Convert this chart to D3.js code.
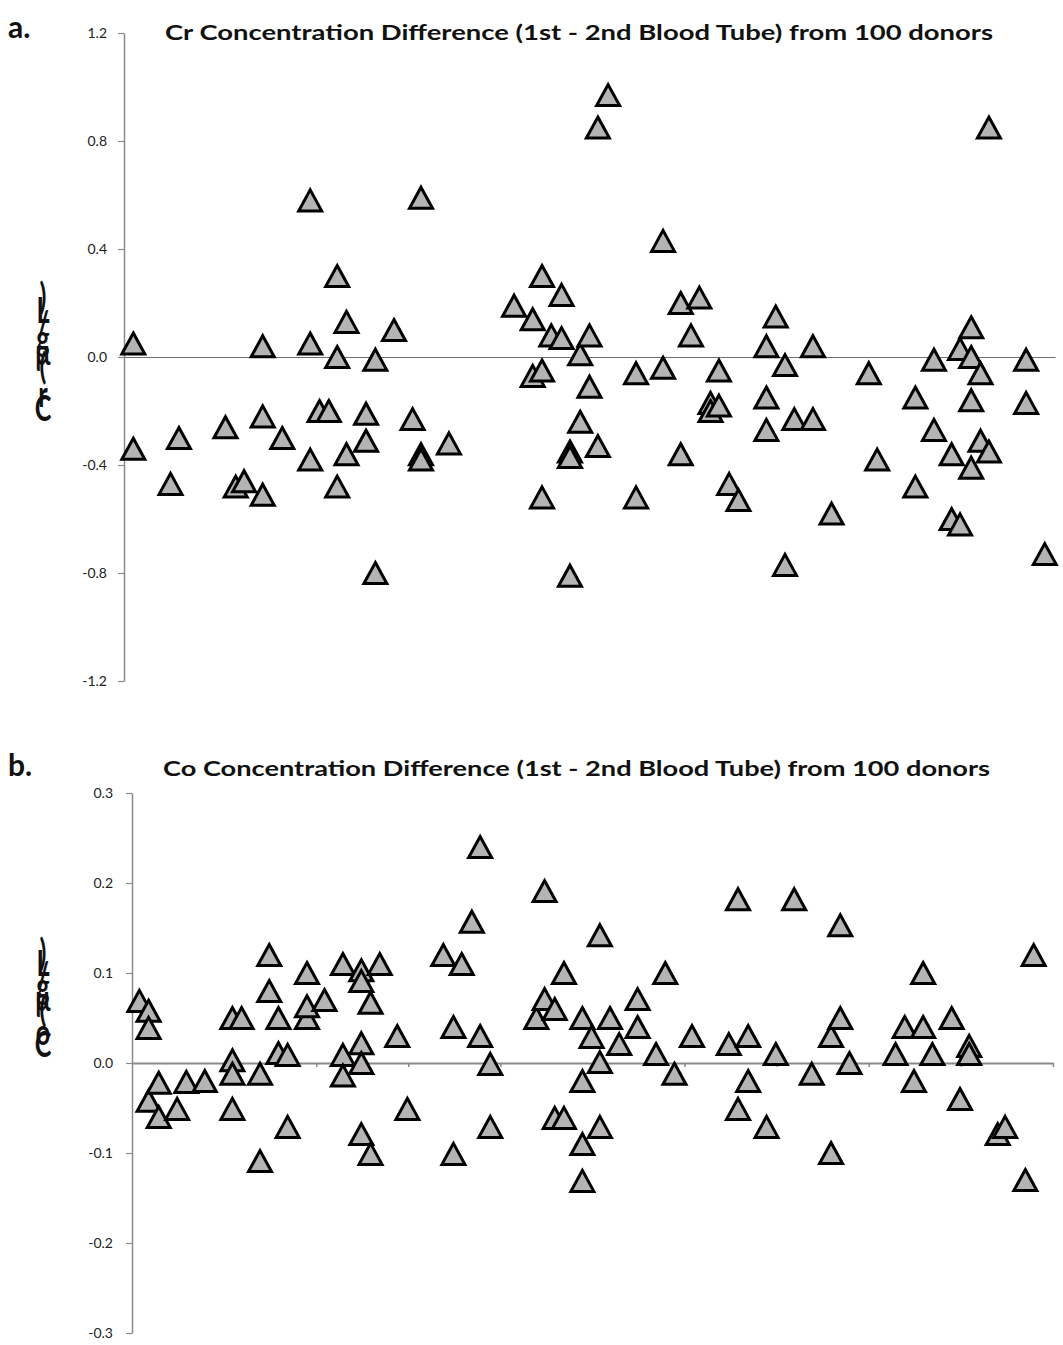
<!DOCTYPE html>
<html>
<head>
<meta charset="utf-8">
<script src="https://cdn.jsdelivr.net/npm/d3@7"></script>
<style>
  body { margin: 0; background: #fff; }
  svg text { font-family: "Lato", "Open Sans", sans-serif; }
</style>
</head>
<body>
<svg id="chart" width="1063" height="1345"></svg>
<script>
// panel a: Cr difference per donor
const crX = [1.0,1.0,5.9,5.0,10.9,14.9,14.9,17.0,12.0,12.9,14.9,20.0,20.0,20.0,21.0,22.0,22.9,22.9,23.9,23.9,22.9,26.0,26.0,27.0,27.0,29.0,31.0,31.9,31.9,31.9,34.9,
  41.9,43.9,44.9,45.9,47.0,47.0,43.9,44.9,44.9,47.9,47.9,47.9,49.0,49.0,50.0,50.0,50.9,50.9,52.0,55.0,55.0,57.9,57.9,59.8,61.8,60.9,59.8,63.0,63.0,63.9,63.9,65.0,66.0,
  69.0,69.0,69.0,70.0,71.0,71.0,72.0,74.0,74.0,76.0,80.0,80.9,85.0,85.0,87.0,87.0,88.9,88.9,89.8,89.8,91.0,91.0,91.0,91.0,92.0,92.0,92.9,92.9,96.9,96.9,98.9];
const crY = [0.05,-0.34,-0.30,-0.47,-0.26,-0.22,0.04,-0.30,-0.48,-0.46,-0.51,0.05,0.58,-0.38,-0.20,-0.20,0.30,0.00,0.13,-0.36,-0.48,-0.21,-0.31,-0.01,-0.80,0.10,-0.23,0.59,-0.36,-0.38,-0.32,
  0.19,0.14,0.30,0.08,0.07,0.23,-0.07,-0.05,-0.52,-0.35,-0.37,-0.81,-0.24,0.01,0.08,-0.11,-0.33,0.85,0.97,-0.06,-0.52,0.43,-0.04,0.20,0.22,0.08,-0.36,-0.17,-0.20,-0.18,-0.05,-0.47,-0.53,
  0.04,-0.15,-0.27,0.15,-0.03,-0.77,-0.23,-0.23,0.04,-0.58,-0.06,-0.38,-0.15,-0.48,-0.01,-0.27,-0.36,-0.60,-0.62,0.03,0.11,0.00,-0.16,-0.41,-0.06,-0.31,-0.35,0.85,-0.01,-0.17,-0.73];

// panel b: Co difference per donor
const coX = [0.8,1.8,1.8,1.8,2.9,2.9,4.9,5.9,7.9,10.9,11.9,10.9,10.9,10.9,13.9,13.9,14.9,14.9,15.9,15.9,
  16.9,16.9,19.0,19.0,19.0,20.9,22.9,22.9,22.9,24.9,24.9,24.9,24.9,24.9,25.9,25.9,26.9,28.8,29.9,33.8,
  35.8,36.9,37.8,34.9,37.8,38.9,38.9,34.9,43.9,44.8,44.8,45.9,46.9,45.9,46.9,48.9,49.9,48.9,48.9,48.9,
  50.8,50.8,50.8,51.9,52.9,54.9,54.9,56.9,57.9,58.9,60.8,64.8,65.8,65.8,66.9,66.9,68.9,69.9,71.9,73.8,
  75.9,76.9,76.9,75.9,77.9,82.9,83.9,84.9,85.9,85.9,86.9,89.0,89.9,90.9,90.9,94.0,94.8,97.0,97.9];
const coY = [0.069,0.058,0.039,-0.042,-0.022,-0.06,-0.051,-0.021,-0.02,0.05,0.05,0.003,-0.012,-0.051,-0.012,-0.109,0.12,0.08,0.05,0.011,
  0.009,-0.071,0.1,0.05,0.063,0.07,0.11,0.009,-0.014,0.103,0.091,0.022,0.0,-0.079,0.067,-0.101,0.11,0.03,-0.051,0.12,
  0.11,0.157,0.24,0.04,0.03,-0.001,-0.071,-0.101,0.05,0.071,0.191,0.06,0.1,-0.061,-0.061,0.05,0.029,-0.02,-0.09,-0.131,
  0.142,0.001,-0.071,0.05,0.021,0.071,0.04,0.01,0.1,-0.012,0.03,0.021,0.182,-0.051,0.03,-0.02,-0.071,0.01,0.182,-0.012,
  0.03,0.153,0.05,-0.1,0.0,0.01,0.04,-0.02,0.1,0.04,0.01,0.05,-0.04,0.019,0.01,-0.079,-0.071,-0.13,0.12];

const crTicks = [-1.2, -0.8, -0.4, 0, 0.4, 0.8, 1.2];
const coTicks = [-0.3, -0.2, -0.1, 0, 0.1, 0.2, 0.3];
const xTicks = [10, 20, 30, 40, 50, 60, 70, 80, 90, 100];

const svg = d3.select("#chart");

// triangle centred on its bounding box, like the Excel marker
const tri = "M0,-10.5L11.5,10.5L-11.5,10.5Z";

function drawPanel(p) {
  const x = d3.scaleLinear().domain([0, 100]).range(p.xRange);
  const y = d3.scaleLinear().domain(p.yDomain).range(p.yRange);
  const g = svg.append("g");

  // panel letter
  g.append("text")
    .attr("x", 8).attr("y", p.letterY)
    .attr("font-family", "Liberation Sans, Arial, sans-serif")
    .attr("font-weight", "bold").attr("font-size", 30)
    .attr("fill", "#111")
    .text(p.letter);

  // title
  g.append("text")
    .attr("x", p.titleX).attr("y", p.titleY)
    .attr("font-weight", "bold").attr("font-size", 21)
    .attr("textLength", p.titleW).attr("lengthAdjust", "spacingAndGlyphs")
    .attr("fill", "#111")
    .text(p.title);

  // y axis
  const yAxis = g.append("g")
    .attr("transform", `translate(${p.xRange[0]},0)`)
    .call(d3.axisLeft(y).tickValues(p.ticks).tickSize(6).tickSizeOuter(0)
      .tickFormat(d => d.toFixed(1)));
  yAxis.select(".domain").attr("stroke", "#8a8a8a").attr("stroke-width", 1.5);
  yAxis.selectAll(".tick line").attr("stroke", "#8a8a8a").attr("stroke-width", 1.2);
  yAxis.selectAll(".tick text")
    .attr("font-family", "Open Sans, sans-serif")
    .attr("font-size", 14).attr("fill", "#222").attr("x", -p.labelGap);

  // zero line with optional ticks
  const xAxis = g.append("g")
    .attr("transform", `translate(0,${y(0)})`)
    .call(d3.axisBottom(x).tickValues(p.xTicks).tickSize(p.xTickSize).tickSizeOuter(0).tickFormat(""));
  xAxis.select(".domain").attr("stroke", p.zeroColor).attr("stroke-width", p.zeroWidth);
  xAxis.selectAll(".tick line").attr("stroke", p.zeroColor).attr("stroke-width", 1.5);

  // y label: upright characters stacked bottom to top, as in the source figure
  const chars = Array.from(p.yLabel);
  g.append("text")
    .attr("transform", "translate(43,0) scale(0.7,1)")
    .attr("text-anchor", "middle")
    .attr("font-family", "Liberation Serif, serif")
    .attr("font-weight", "bold")
    .attr("font-size", 36)
    .attr("fill", "#111")
    .selectAll("tspan")
    .data(chars)
    .enter()
    .append("tspan")
    .attr("x", 0)
    .attr("y", (d, i) => p.labelBase - i * p.labelStep)
    .text(d => d);

  // markers
  g.append("g")
    .selectAll("path")
    .data(p.xs.map((v, i) => [v, p.ys[i]]))
    .enter()
    .append("path")
    .attr("d", tri)
    .attr("transform", d => `translate(${x(d[0])},${y(d[1])})`)
    .attr("fill", "#b5b3b3")
    .attr("stroke", "#000")
    .attr("stroke-width", 3)
    .attr("stroke-linejoin", "miter");
}

drawPanel({
  letter: "a.", letterY: 38,
  title: "Cr Concentration Difference (1st - 2nd Blood Tube) from 100 donors",
  titleX: 165, titleY: 40, titleW: 828,
  xRange: [124, 1055], yRange: [681, 33], yDomain: [-1.2, 1.2],
  ticks: crTicks, labelGap: 17, xTicks: [], xTickSize: 0, zeroColor: "#6e6e6e", zeroWidth: 1.2,
  yLabel: "Cr (µg/L)", labelBase: 421, labelStep: 14,
  xs: crX, ys: crY
});

drawPanel({
  letter: "b.", letterY: 776,
  title: "Co Concentration Difference (1st - 2nd Blood Tube) from 100 donors",
  titleX: 163, titleY: 776, titleW: 827,
  xRange: [132, 1053], yRange: [1333, 793], yDomain: [-0.3, 0.3],
  ticks: coTicks, labelGap: 19, xTicks: xTicks, xTickSize: 4, zeroColor: "#8a8a8a", zeroWidth: 2,
  yLabel: "Co (µg/L)", labelBase: 1057, labelStep: 11.5,
  xs: coX, ys: coY
});
</script>
</body>
</html>
